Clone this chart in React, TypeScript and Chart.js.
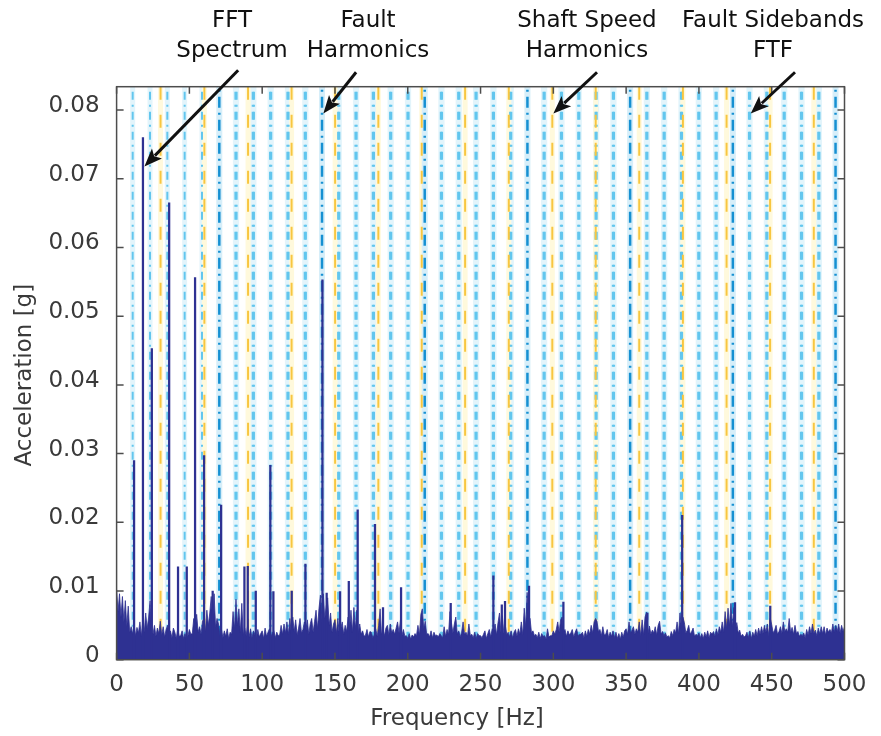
import React, { useEffect, useRef } from 'react';
import { Chart, registerables } from 'chart.js';

Chart.register(...registerables);

// ---------------- DATA ----------------
// Noise floor of the FFT spectrum, one value per Hz (0..500 Hz), in units of 1e-4 g
const noiseFloor1e4 = [
  102, 70, 96, 62, 92, 55, 86, 48, 78, 40,
  48, 37, 52, 35, 47, 39, 55, 34, 58, 40,
  68, 45, 62, 86, 40, 37, 50, 34, 46, 38,
  56, 36, 48, 33, 44, 50, 35, 42, 32, 46,
  40, 31, 45, 34, 35, 42, 31, 38, 29, 35,
  44, 37, 38, 60, 39, 66, 40, 48, 37, 56,
  60, 41, 72, 50, 68, 92, 55, 96, 48, 60,
  52, 35, 45, 32, 42, 34, 45, 31, 40, 37,
  70, 45, 88, 50, 74, 40, 82, 35, 46, 35,
  50, 33, 45, 32, 42, 36, 31, 44, 33, 38,
  42, 31, 46, 34, 40, 45, 33, 39, 42, 32,
  40, 35, 36, 50, 37, 52, 39, 55, 37, 60,
  38, 62, 41, 58, 36, 46, 60, 39, 44, 55,
  41, 58, 37, 52, 60, 40, 56, 72, 45, 74,
  94, 55, 96, 60, 78, 90, 50, 68, 40, 52,
  58, 39, 60, 35, 46, 55, 37, 50, 41, 62,
  45, 72, 40, 76, 45, 72, 38, 52, 37, 42,
  34, 36, 44, 33, 41, 40, 32, 36, 45, 34,
  50, 74, 37, 44, 35, 46, 50, 36, 52, 39,
  44, 37, 46, 55, 39, 58, 35, 44, 34, 35,
  31, 38, 30, 36, 33, 38, 35, 50, 36, 66,
  74, 45, 56, 37, 38, 33, 42, 32, 40, 35,
  36, 33, 38, 35, 32, 48, 34, 44, 37, 70,
  54, 39, 52, 62, 37, 42, 33, 40, 55, 37,
  40, 34, 52, 35, 37, 32, 40, 31, 38, 35,
  35, 32, 37, 42, 31, 38, 44, 33, 45, 40,
  52, 36, 54, 68, 40, 64, 38, 50, 37, 40,
  33, 42, 32, 40, 44, 34, 45, 37, 55, 36,
  75, 48, 98, 55, 60, 39, 42, 35, 37, 32,
  40, 31, 38, 34, 35, 30, 45, 33, 35, 35,
  42, 37, 44, 55, 40, 58, 62, 41, 44, 34,
  42, 36, 39, 44, 33, 40, 45, 35, 37, 37,
  40, 32, 42, 34, 44, 37, 50, 39, 55, 60,
  56, 41, 44, 35, 48, 36, 37, 44, 32, 40,
  34, 42, 32, 40, 31, 38, 30, 40, 33, 42,
  45, 37, 55, 39, 43, 48, 37, 45, 40, 55,
  35, 58, 36, 62, 69, 38, 49, 37, 43, 39,
  48, 36, 50, 56, 37, 41, 35, 39, 33, 35,
  32, 41, 35, 44, 39, 55, 38, 68, 45, 62,
  54, 39, 43, 50, 37, 41, 46, 34, 37, 35,
  39, 32, 38, 31, 40, 33, 42, 32, 40, 37,
  41, 34, 45, 36, 48, 40, 55, 40, 70, 45,
  75, 50, 82, 48, 76, 40, 54, 39, 43, 34,
  37, 33, 35, 40, 32, 42, 31, 40, 34, 44,
  35, 46, 37, 48, 38, 50, 40, 52, 35, 60,
  51, 39, 43, 50, 37, 41, 48, 38, 55, 41,
  45, 40, 60, 40, 47, 37, 50, 38, 41, 34,
  37, 35, 39, 32, 44, 36, 48, 38, 52, 39,
  43, 35, 46, 37, 48, 38, 48, 36, 46, 40,
  44, 39, 52, 40, 50, 41, 52, 39, 50, 41,
  48,
];

// Discrete spectral peaks
const peakFreqs = [
  12.0, 18.1, 24.2, 36.1, 42.2, 48.2, 53.9, 60.1, 66.0, 71.8,
  87.8, 90.1, 95.6, 105.6, 107.7, 120.3, 129.7, 141.4, 144.3, 153.5,
  159.5, 165.6, 177.5, 183.0, 195.4, 229.5, 258.8, 264.6, 266.8, 283.3,
  306.9, 364.6, 388.5, 424.8, 449.0,
];
const peakAmps = [
  0.0290, 0.0760, 0.0453, 0.0665, 0.0135, 0.0135, 0.0556, 0.0297, 0.0100, 0.0225,
  0.0135, 0.0136, 0.0100, 0.0283, 0.0099, 0.0100, 0.0139, 0.0553, 0.0097, 0.0099,
  0.0114, 0.0218, 0.0197, 0.0076, 0.0105, 0.0082, 0.0122, 0.0080, 0.0085, 0.0107,
  0.0084, 0.0068, 0.0210, 0.0083, 0.0078,
];

// Marker frequencies (Hz)
const faultHarmonics = [70.55, 141.1, 211.65, 282.2, 352.75, 423.3, 493.85];
const shaftHarmonics = [30.2, 60.3, 90.3, 120.2, 150.1, 179.8, 209.6, 239.4, 269.4, 299.3, 329.1, 359.0, 389.0, 419.0, 448.9, 478.9];
const ftfHz = 11.9;
const sidebandOrders = [1, 2, 3, 4, 5];

const xTickValues = [0, 50, 100, 150, 200, 250, 300, 350, 400, 450, 500];
const yTickValues = [0, 0.01, 0.02, 0.03, 0.04, 0.05, 0.06, 0.07, 0.08];

const annotationLabels = [
  ['FFT', 'Spectrum'],
  ['Fault', 'Harmonics'],
  ['Shaft Speed', 'Harmonics'],
  ['Fault Sidebands', 'FTF'],
];
// text centre frequency, arrow tail (Hz, g), arrow tip (Hz, g)
const annotationTextHz = [79.3, 172.7, 323.1, 450.9];
const arrowTailHz = [83.5, 164.5, 330.0, 466.0];
const arrowTailG = [0.0858, 0.0855, 0.0855, 0.0855];
const arrowTipHz = [19.1, 142.0, 300.0, 435.6];
const arrowTipG = [0.0718, 0.0795, 0.0795, 0.0795];
const annotationLineG = [0.0930, 0.0886];

// ---------------- STYLE ----------------
const NAVY = '#2e3192';
const FONT = 'DejaVu Sans';
const TEXT_GRAY = '#3a3a3a';

const markerPlugin = {
  id: 'markers',
  beforeDatasetsDraw(chart: any) {
    const { ctx, chartArea, scales } = chart;
    const { top, bottom, left, right } = chartArea;
    const x = scales.x;
    const sidebands: number[] = [];
    faultHarmonics.forEach((h) =>
      sidebandOrders.forEach((k) => {
        [h - k * ftfHz, h + k * ftfHz].forEach((f) => {
          if (f > 0 && f < 500) sidebands.push(f);
        });
      })
    );
    const groups = [
      { freqs: sidebands, halo: '#e2f4fb', haloW: 5, color: '#62c6ee', w: 2, dash: [8, 5, 2, 5] },
      { freqs: shaftHarmonics, halo: '#fff9dc', haloW: 5, color: '#f8c640', w: 2, dash: [13, 15] },
      { freqs: faultHarmonics, halo: '#d6eef9', haloW: 6, color: '#1690d2', w: 2.5, dash: [11, 5, 2, 5] },
    ];
    ctx.save();
    ctx.beginPath();
    ctx.rect(left, top, right - left, bottom - top);
    ctx.clip();
    groups.forEach((g) => {
      ctx.strokeStyle = g.halo;
      ctx.lineWidth = g.haloW;
      ctx.setLineDash([]);
      g.freqs.forEach((f) => {
        const px = x.getPixelForValue(f);
        ctx.beginPath();
        ctx.moveTo(px, top);
        ctx.lineTo(px, bottom);
        ctx.stroke();
      });
    });
    groups.forEach((g) => {
      ctx.strokeStyle = g.color;
      ctx.lineWidth = g.w;
      ctx.setLineDash(g.dash);
      g.freqs.forEach((f) => {
        const px = x.getPixelForValue(f);
        ctx.beginPath();
        ctx.moveTo(px, bottom);
        ctx.lineTo(px, top);
        ctx.stroke();
      });
    });
    ctx.restore();
  },
  afterDraw(chart: any) {
    const { ctx, chartArea, scales } = chart;
    const { top, bottom, left, right } = chartArea;
    const x = scales.x;
    const y = scales.y;
    ctx.save();
    // frame
    ctx.strokeStyle = '#4d4d4d';
    ctx.lineWidth = 1.5;
    ctx.setLineDash([]);
    ctx.strokeRect(left, top, right - left, bottom - top);
    // inward ticks
    const tl = 7;
    xTickValues.forEach((v) => {
      const px = x.getPixelForValue(v);
      ctx.beginPath();
      ctx.moveTo(px, bottom);
      ctx.lineTo(px, bottom - tl);
      ctx.moveTo(px, top);
      ctx.lineTo(px, top + tl);
      ctx.stroke();
    });
    yTickValues.forEach((v) => {
      const py = y.getPixelForValue(v);
      ctx.beginPath();
      ctx.moveTo(left, py);
      ctx.lineTo(left + tl, py);
      ctx.moveTo(right, py);
      ctx.lineTo(right - tl, py);
      ctx.stroke();
    });

    // axis titles
    ctx.fillStyle = TEXT_GRAY;
    ctx.font = `23px "${FONT}"`;
    ctx.textAlign = 'center';
    ctx.textBaseline = 'middle';
    ctx.fillText('Frequency [Hz]', 457, 719);
    ctx.save();
    ctx.translate(25, (top + bottom) / 2 + 2);
    ctx.rotate(-Math.PI / 2);
    ctx.fillText('Acceleration [g]', 0, 0);
    ctx.restore();

    // annotations
    ctx.fillStyle = '#111111';
    ctx.strokeStyle = '#111111';
    annotationLabels.forEach((lines, i) => {
      const tx = x.getPixelForValue(annotationTextHz[i]);
      lines.forEach((t, j) => {
        ctx.fillText(t, tx, y.getPixelForValue(annotationLineG[j]));
      });
      const x1 = x.getPixelForValue(arrowTailHz[i]);
      const y1 = y.getPixelForValue(arrowTailG[i]);
      const x2 = x.getPixelForValue(arrowTipHz[i]);
      const y2 = y.getPixelForValue(arrowTipG[i]);
      const ang = Math.atan2(y2 - y1, x2 - x1);
      const headLen = 18;
      const headHalf = 7;
      const bx = x2 - headLen * Math.cos(ang);
      const by = y2 - headLen * Math.sin(ang);
      ctx.lineWidth = 3;
      ctx.beginPath();
      ctx.moveTo(x1, y1);
      ctx.lineTo(bx + 3 * Math.cos(ang), by + 3 * Math.sin(ang));
      ctx.stroke();
      ctx.beginPath();
      ctx.moveTo(x2, y2);
      ctx.lineTo(bx + headHalf * Math.sin(ang), by - headHalf * Math.cos(ang));
      ctx.lineTo(bx + 4 * Math.cos(ang), by + 4 * Math.sin(ang));
      ctx.lineTo(bx - headHalf * Math.sin(ang), by + headHalf * Math.cos(ang));
      ctx.closePath();
      ctx.fill();
    });
    ctx.restore();
  },
};

export default function App() {
  const ref = useRef<HTMLCanvasElement | null>(null);
  useEffect(() => {
    if (!ref.current) return;
    const noiseData = noiseFloor1e4.map((v, i) => ({ x: i, y: v * 1e-4 }));
    const peakData = peakFreqs.map((f, i) => ({ x: f, y: peakAmps[i] }));
    const chart = new Chart(ref.current, {
      type: 'line',
      data: {
        datasets: [
          {
            type: 'line',
            data: noiseData,
            borderColor: NAVY,
            backgroundColor: NAVY,
            borderWidth: 0.8,
            pointRadius: 0,
            fill: 'origin',
            tension: 0,
            order: 2,
          } as any,
          {
            type: 'bar',
            data: peakData,
            backgroundColor: NAVY,
            borderWidth: 0,
            barThickness: 1.6,
            order: 1,
          } as any,
        ],
      },
      options: {
        animation: false,
        responsive: false,
        layout: { padding: { top: 86.7, right: 36.5, left: 0, bottom: 0 } },
        plugins: { legend: { display: false }, tooltip: { enabled: false } },
        scales: {
          x: {
            type: 'linear',
            min: 0,
            max: 500,
            offset: false,
            grid: { display: false, drawTicks: false },
            border: { display: false },
            afterBuildTicks: (s: any) => {
              s.ticks = xTickValues.map((v) => ({ value: v }));
            },
            afterFit: (s: any) => {
              s.height = 76.3;
            },
            ticks: {
              autoSkip: false,
              maxRotation: 0,
              padding: 12,
              color: TEXT_GRAY,
              font: { family: FONT, size: 23 },
            },
          },
          y: {
            type: 'linear',
            min: 0,
            max: 0.0834,
            grid: { display: false, drawTicks: false },
            border: { display: false },
            afterBuildTicks: (s: any) => {
              s.ticks = yTickValues.map((v) => ({ value: v }));
            },
            afterFit: (s: any) => {
              s.width = 116.6;
            },
            ticks: {
              padding: 17,
              labelOffset: -4,
              color: TEXT_GRAY,
              font: { family: FONT, size: 23 },
              callback: (v: any) => (Number(v) === 0 ? '0' : Number(v).toFixed(2)),
            },
          },
        },
      } as any,
      plugins: [markerPlugin],
    });
    return () => chart.destroy();
  }, []);
  return (
    <div style={{ position: 'absolute', left: 0, top: 0, width: 881, height: 736, background: '#fff' }}>
      <canvas ref={ref} width={881} height={736} style={{ display: 'block' }} />
    </div>
  );
}
